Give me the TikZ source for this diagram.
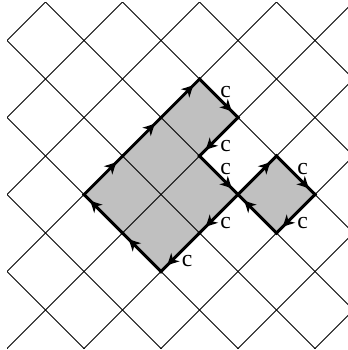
\documentclass[tikz,border=0pt]{standalone}
\usepackage{fontspec}
\setmainfont{Liberation Serif}
\usetikzlibrary{arrows.meta, decorations.markings}
\definecolor{plaqgrey}{RGB}{192,192,192}

\begin{document}
\begin{tikzpicture}[
			x=1cm, y=1cm,
			% grid and boundary styles
			gridline/.style={line width=0.6pt},
			border/.style={
				line width=2.1pt, line cap=rect,
				postaction={decorate},
				decoration={markings,
					mark=at position 0.84 with {\arrow{Stealth[length=8.5pt, width=8.5pt, inset=2.5pt]}}}
			},
			clab/.style={font=\fontsize{17.5}{19}\selectfont, inner sep=0pt},
			labne/.style={clab, xshift=0.18cm, yshift=0.16cm},
			labse/.style={clab, xshift=0.18cm, yshift=-0.23cm}
		]
		\useasboundingbox (-0.182,0.052) rectangle (8.857,-9.039);

		% Corners of the shaded plaquettes
		\coordinate (v1) at (2,-5);
		\coordinate (v2) at (3,-4);
		\coordinate (v3) at (4,-3);
		\coordinate (v4) at (5,-2);
		\coordinate (v5) at (6,-3);
		\coordinate (v6) at (5,-4);
		\coordinate (v7) at (6,-5);
		\coordinate (v8) at (5,-6);
		\coordinate (v9) at (4,-7);
		\coordinate (v10) at (3,-6);
		\coordinate (s1) at (7,-4);
		\coordinate (s2) at (8,-5);
		\coordinate (s3) at (7,-6);

		% Shading
		\fill[plaqgrey] (v1) -- (v4) -- (v5) -- (v6) -- (v7) -- (v9) -- cycle;
		\fill[plaqgrey] (v7) -- (s1) -- (s2) -- (s3) -- cycle;

		% Diagonal grid
		\begin{scope}
			\clip (0,0) rectangle (8.857,-9);
			\foreach \c in {-9,-7,...,9}
				\draw[gridline] (\c-1,1) -- (\c+10,-10);
			\foreach \s in {1,3,...,17}
				\draw[gridline] (\s+1,1) -- (\s-10,-10);
		\end{scope}

		% Boundary links
		\foreach \u/\v in {v1/v2, v2/v3, v3/v4, v9/v10, v10/v1, v7/s1, s3/v7}
			\draw[border] (\u) -- (\v);
		\foreach \u/\v/\side in {v4/v5/labne, v5/v6/labse, v6/v7/labne,
				v7/v8/labse, v8/v9/labse, s1/s2/labne, s2/s3/labse}
			\draw[border] (\u) -- (\v) node[\side, midway] (lab-\u) {c};

		\end{tikzpicture}
\end{document}
